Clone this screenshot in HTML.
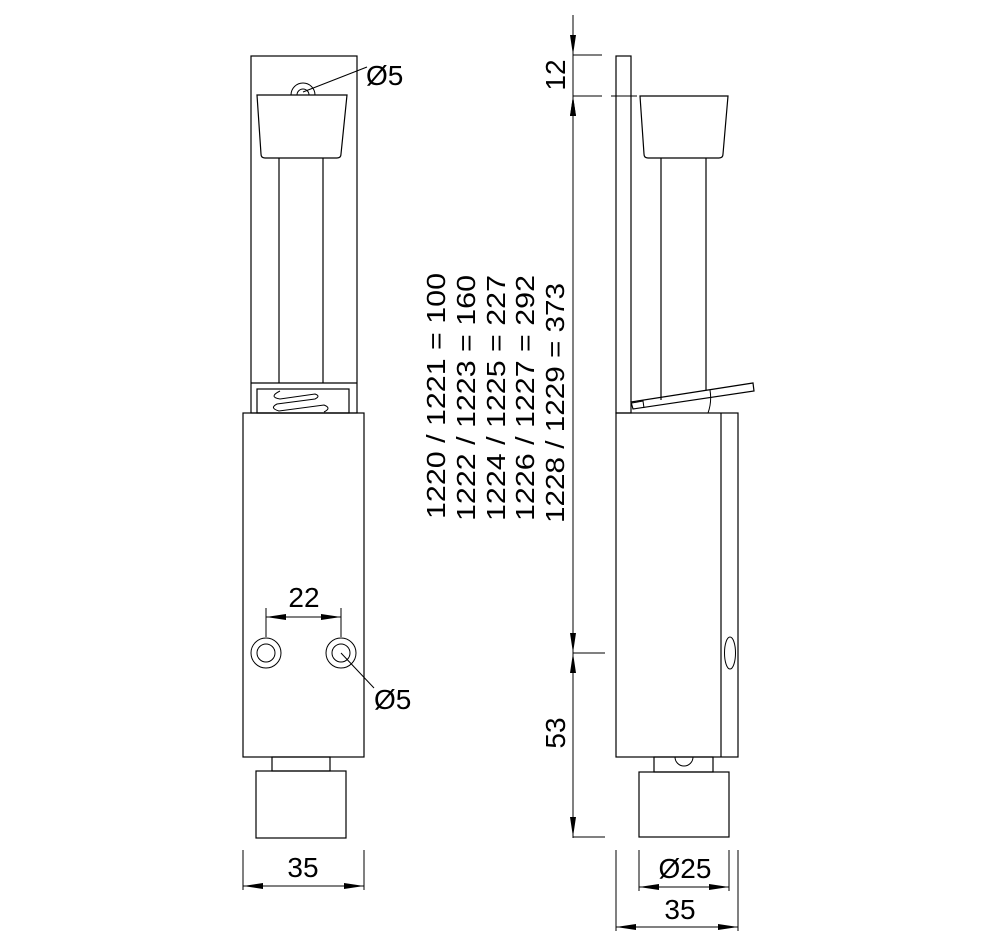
<!DOCTYPE html>
<html><head><meta charset="utf-8"><style>
html,body{margin:0;padding:0;background:#fff;}
svg{display:block;}
text{font-family:"Liberation Sans",Arial,sans-serif;fill:#000;}
</style></head><body>
<svg width="1000" height="945" viewBox="0 0 1000 945" xmlns="http://www.w3.org/2000/svg">
<defs>
<marker id="a" viewBox="0 0 20 6" refX="20" refY="3" markerWidth="20" markerHeight="6" markerUnits="userSpaceOnUse" orient="auto-start-reverse">
<path d="M0,0 L20,3 L0,6 Z" fill="#000"/></marker>
</defs>
<g fill="none" stroke="#000" stroke-width="1.2">
<!-- LEFT VIEW -->
<rect x="251" y="56" width="106" height="357"/>
<line x1="251" y1="383" x2="357" y2="383"/>
<rect x="257" y="389" width="92" height="24"/>
<path d="M280,391 q-12,6 0,8 l35,-5 q6,2 0,5 l-38,5 q-8,4 2,7 l45,-6 q8,3 0,7" stroke-width="1"/>
<path d="M291,95 a12,12 0 0 1 24,0" stroke-width="1"/>
<path d="M297,95 a6,6 0 0 1 12,0" stroke-width="1"/>
<path d="M257,95 L347,95 L341,154 q0,4 -4,4 L265,158 q-4,0 -4,-4 Z"/>
<line x1="279" y1="158" x2="279" y2="383"/>
<line x1="323" y1="158" x2="323" y2="383"/>
<rect x="243" y="413" width="121" height="344"/>
<rect x="272" y="757" width="58" height="14"/>
<rect x="256" y="771" width="90" height="67"/>
<circle cx="266" cy="653" r="15" stroke-width="1"/><circle cx="266" cy="653" r="9" stroke-width="1"/>
<circle cx="341" cy="653" r="15" stroke-width="1"/><circle cx="341" cy="653" r="9" stroke-width="1"/>
<line x1="341" y1="653" x2="374" y2="688" stroke-width="1"/>
<line x1="303" y1="92" x2="367" y2="67" stroke-width="1"/>
<line x1="266" y1="608" x2="266" y2="637" stroke-width="1"/>
<line x1="341" y1="608" x2="341" y2="637" stroke-width="1"/>
<line x1="266" y1="617" x2="341" y2="617" stroke-width="1" marker-start="url(#a)" marker-end="url(#a)"/>
<line x1="243" y1="850" x2="243" y2="890" stroke-width="1"/>
<line x1="364" y1="850" x2="364" y2="890" stroke-width="1"/>
<line x1="243" y1="886" x2="364" y2="886" stroke-width="1" marker-start="url(#a)" marker-end="url(#a)"/>

<!-- RIGHT VIEW -->
<rect x="616" y="56" width="15" height="357"/>
<path d="M640,96 L728,96 L723,154 q0,4 -4,4 L648,158 q-4,0 -4,-4 Z"/>
<line x1="661" y1="158" x2="661" y2="400"/>
<line x1="706" y1="158" x2="706" y2="390"/>
<path d="M631,402 L753,383 L754,391 L633,409 Z"/>
<path d="M632,403 L643,401 L644,408 M710,390 q2,12 -2,23" stroke-width="1"/>
<rect x="616" y="413" width="122" height="344"/>
<line x1="721" y1="413" x2="721" y2="757"/>
<ellipse cx="730" cy="653" rx="5.5" ry="16" stroke-width="1"/>
<rect x="654" y="757" width="59" height="15"/>
<path d="M675,757 a9,9 0 0 0 18,0" stroke-width="1"/>
<rect x="639" y="772" width="90" height="65"/>
<line x1="573" y1="15" x2="573" y2="838" stroke-width="1"/>
<line x1="573" y1="15" x2="573" y2="55" stroke-width="1" marker-end="url(#a)"/>
<line x1="573" y1="96" x2="573" y2="133" stroke-width="1" marker-start="url(#a)"/>
<line x1="573" y1="96" x2="573" y2="653" stroke-width="1" marker-start="url(#a)" marker-end="url(#a)"/>
<line x1="573" y1="653" x2="573" y2="837" stroke-width="1" marker-start="url(#a)" marker-end="url(#a)"/>
<line x1="573" y1="55" x2="602" y2="55" stroke-width="1"/>
<line x1="573" y1="96" x2="602" y2="96" stroke-width="1"/>
<line x1="611" y1="96" x2="637" y2="96" stroke-width="1"/>
<line x1="573" y1="653" x2="605" y2="653" stroke-width="1"/>
<line x1="573" y1="837" x2="605" y2="837" stroke-width="1"/>
<line x1="639" y1="850" x2="639" y2="891" stroke-width="1"/>
<line x1="729" y1="850" x2="729" y2="891" stroke-width="1"/>
<line x1="639" y1="887" x2="729" y2="887" stroke-width="1" marker-start="url(#a)" marker-end="url(#a)"/>
<line x1="616" y1="850" x2="616" y2="931" stroke-width="1"/>
<line x1="738" y1="850" x2="738" y2="931" stroke-width="1"/>
<line x1="616" y1="927" x2="738" y2="927" stroke-width="1" marker-start="url(#a)" marker-end="url(#a)"/>
</g>
<g font-size="28">
<text x="366" y="85">Ø5</text>
<text x="374" y="709">Ø5</text>
<text x="304" y="607" text-anchor="middle">22</text>
<text x="303" y="877" text-anchor="middle">35</text>
<text x="685" y="878" text-anchor="middle">Ø25</text>
<text x="680" y="919" text-anchor="middle">35</text>
<text transform="translate(565,75) rotate(-90)" text-anchor="middle">12</text>
<text transform="translate(565,733) rotate(-90)" text-anchor="middle">53</text>
</g>
<g font-size="26" text-anchor="middle">
<text transform="translate(445,396) rotate(-90)" textLength="246" lengthAdjust="spacingAndGlyphs">1220 / 1221 = 100</text>
<text transform="translate(475,398) rotate(-90)" textLength="246" lengthAdjust="spacingAndGlyphs">1222 / 1223 = 160</text>
<text transform="translate(505,398) rotate(-90)" textLength="246" lengthAdjust="spacingAndGlyphs">1224 / 1225 = 227</text>
<text transform="translate(534,398) rotate(-90)" textLength="246" lengthAdjust="spacingAndGlyphs">1226 / 1227 = 292</text>
<text transform="translate(564,403) rotate(-90)" textLength="240" lengthAdjust="spacingAndGlyphs">1228 / 1229 = 373</text>
</g>
</svg>
</body></html>
